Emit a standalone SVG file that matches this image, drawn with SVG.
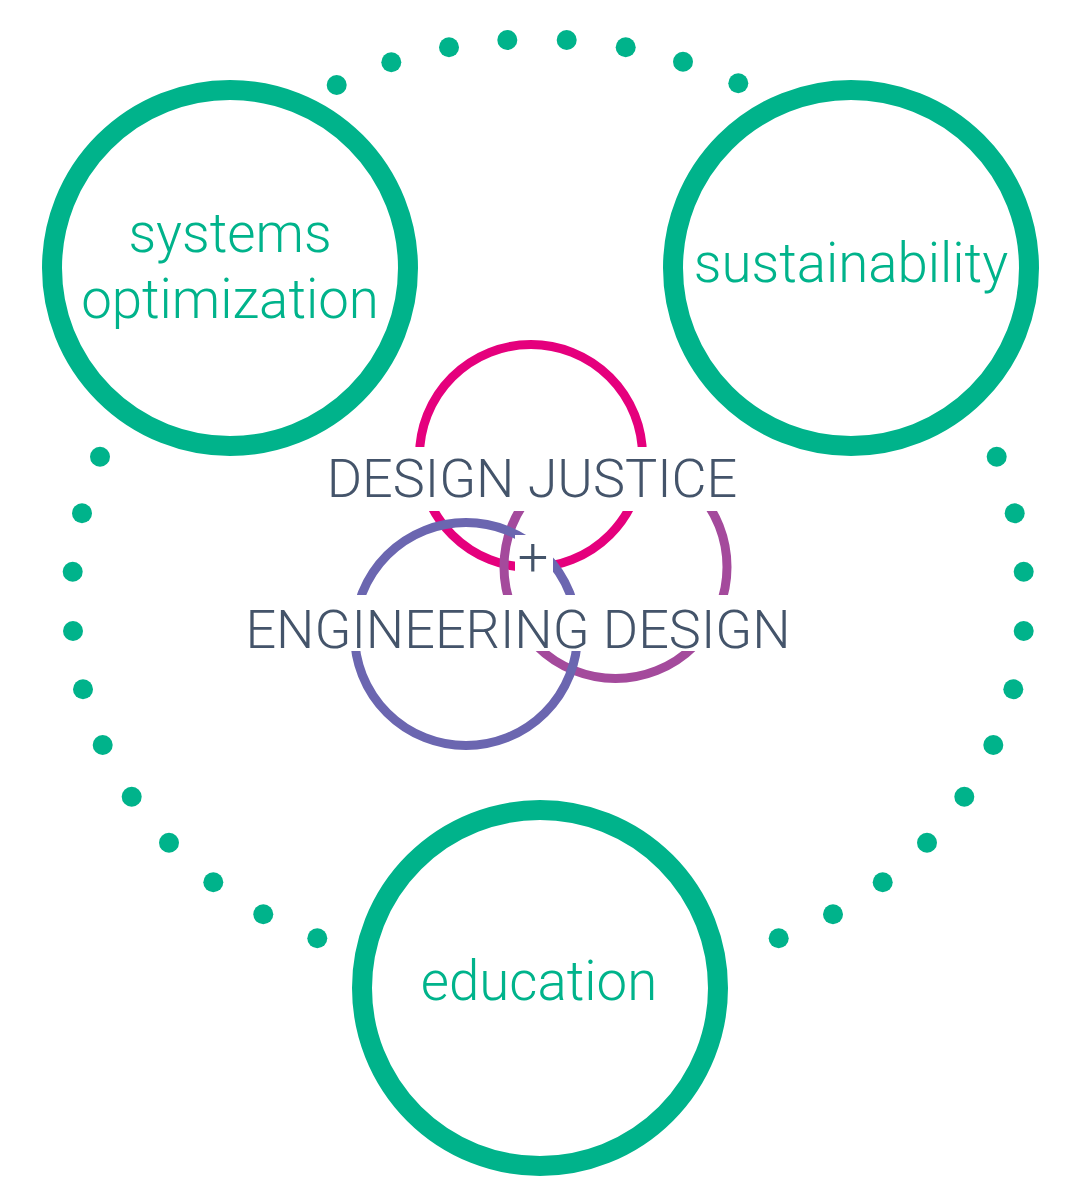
<svg xmlns="http://www.w3.org/2000/svg" width="1080" height="1200" viewBox="0 0 1080 1200">
<style>
.dot{fill:#00B38B}
.big{fill:none;stroke:#00B38B;stroke-width:20}
.small{fill:none;stroke-width:9}
.lbl{font-family:Roboto,"Liberation Sans",sans-serif;font-weight:300;font-size:54.6px;fill:#00B38B;text-anchor:middle}
.core{font-family:Roboto,"Liberation Sans",sans-serif;font-weight:300;font-size:54px;fill:#44546A;text-anchor:middle}
.band{fill:#FFFFFF}
</style>
<rect width="1080" height="1200" fill="#FFFFFF"/>
<g id="connectors">
<circle class="dot" cx="336.7" cy="85" r="10"/>
<circle class="dot" cx="391.3" cy="62.3" r="10"/>
<circle class="dot" cx="449" cy="47.3" r="10"/>
<circle class="dot" cx="507.3" cy="40" r="10"/>
<circle class="dot" cx="566.7" cy="40" r="10"/>
<circle class="dot" cx="625.7" cy="47.3" r="10"/>
<circle class="dot" cx="683" cy="61.7" r="10"/>
<circle class="dot" cx="738.3" cy="83.3" r="10"/>
<circle class="dot" cx="100" cy="456.7" r="10"/>
<circle class="dot" cx="82" cy="513.3" r="10"/>
<circle class="dot" cx="72.7" cy="571.7" r="10"/>
<circle class="dot" cx="73" cy="631" r="10"/>
<circle class="dot" cx="83" cy="689.3" r="10"/>
<circle class="dot" cx="102.7" cy="745" r="10"/>
<circle class="dot" cx="131.7" cy="796.7" r="10"/>
<circle class="dot" cx="169" cy="842.7" r="10"/>
<circle class="dot" cx="213.3" cy="882.3" r="10"/>
<circle class="dot" cx="263.3" cy="914.3" r="10"/>
<circle class="dot" cx="317.3" cy="938.3" r="10"/>
<circle class="dot" cx="996.7" cy="456.7" r="10"/>
<circle class="dot" cx="1014.7" cy="513.3" r="10"/>
<circle class="dot" cx="1023.7" cy="571.7" r="10"/>
<circle class="dot" cx="1023.7" cy="631" r="10"/>
<circle class="dot" cx="1013.3" cy="689.3" r="10"/>
<circle class="dot" cx="993.3" cy="745" r="10"/>
<circle class="dot" cx="964.3" cy="796.7" r="10"/>
<circle class="dot" cx="927" cy="842.7" r="10"/>
<circle class="dot" cx="882.7" cy="882.3" r="10"/>
<circle class="dot" cx="833" cy="914.3" r="10"/>
<circle class="dot" cx="778.7" cy="938.3" r="10"/>
</g>
<g id="systems-optimization">
<circle class="big" cx="230" cy="268" r="178"/>
<text class="lbl" x="230" y="252">systems</text>
<text class="lbl" x="230" y="318">optimization</text>
</g>
<g id="sustainability">
<circle class="big" cx="851" cy="268" r="178"/>
<text class="lbl" x="851" y="282">sustainability</text>
</g>
<g id="education">
<circle class="big" cx="540" cy="988" r="178"/>
<text class="lbl" x="539" y="1000">education</text>
</g>
<g id="core">
<circle class="small" cx="531" cy="456" r="111.5" stroke="#E5007D"/>
<circle class="small" cx="615.5" cy="567" r="111.5" stroke="#A44A9C"/>
<circle class="small" cx="466" cy="634" r="111.5" stroke="#6B66B0"/>
<rect class="band" x="322" y="447" width="420" height="64"/>
<rect class="band" x="515" y="535" width="38" height="61"/>
<rect class="band" x="240" y="595" width="556" height="56"/>
<text class="core" x="532" y="497">DESIGN JUSTICE</text>
<text class="core" x="533" y="576">+</text>
<text class="core" x="518" y="648">ENGINEERING DESIGN</text>
</g>
</svg>
